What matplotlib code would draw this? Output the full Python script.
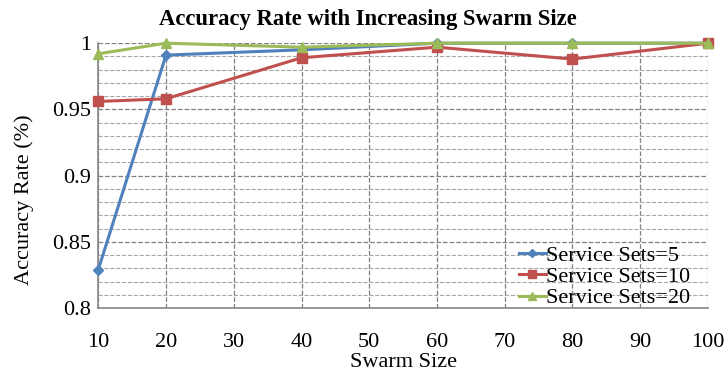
import matplotlib
matplotlib.use("Agg")
import matplotlib.pyplot as plt
from matplotlib.ticker import MultipleLocator

swarm_size = [10, 20, 40, 60, 80, 100]
sets_5 = [0.829, 0.991, 0.995, 1.0, 1.0, 1.0]
sets_10 = [0.956, 0.958, 0.989, 0.997, 0.988, 1.0]
sets_20 = [0.992, 1.0, 0.997, 1.0, 1.0, 1.0]

plt.rcParams['font.family'] = ['Liberation Serif', 'DejaVu Serif']

fig = plt.figure(figsize=(7.28, 3.74), dpi=100)
ax = fig.add_axes([0.135, 0.1765, 0.8375, 0.708])

ax.plot(swarm_size, sets_5, color='#4F81BD', marker='D', markersize=5, linewidth=2.2,
        label='Service Sets=5', zorder=3, clip_on=False)
ax.plot(swarm_size, sets_10, color='#C0504D', marker='s', markersize=7, linewidth=2.2,
        label='Service Sets=10', zorder=3, clip_on=False)
ax.plot(swarm_size, sets_20, color='#9BBB59', marker='^', markersize=7, linewidth=2.2,
        label='Service Sets=20', zorder=3, clip_on=False)

ax.set_xlim(10, 100)
ax.set_ylim(0.8, 1.0)
ax.xaxis.set_major_locator(MultipleLocator(10))
ax.yaxis.set_minor_locator(MultipleLocator(0.01))
ax.set_yticks([0.8, 0.85, 0.9, 0.95, 1.0])
ax.set_yticklabels(['0.8', '0.85', '0.9', '0.95', '1'])

ax.grid(True, which='major', axis='both', color='#808080', linestyle='--', linewidth=0.9)
ax.grid(True, which='minor', axis='y', color='#A6A6A6', linestyle='--', linewidth=0.8)
ax.set_axisbelow(True)
ax.tick_params(which='both', length=0, labelsize=16)
ax.tick_params(axis='x', pad=18)
ax.tick_params(axis='y', pad=5)

for side in ['top', 'right']:
    ax.spines[side].set_visible(False)
for side in ['left', 'bottom']:
    ax.spines[side].set_color('#868686')
    ax.spines[side].set_linewidth(1.2)

fig.text(0.505, 0.948, 'Accuracy Rate with Increasing Swarm Size', fontsize=16.3,
         fontweight='bold', ha='center', va='center')
ax.set_xlabel('Swarm Size', fontsize=16, labelpad=1)
ax.set_ylabel('Accuracy Rate (%)', fontsize=16, labelpad=11)
ax.yaxis.set_label_coords(-0.105, 0.41)

ax.legend(loc='lower right', frameon=False, fontsize=16, handlelength=1.2,
          handletextpad=0.0, labelspacing=0.03, borderaxespad=0.0,
          bbox_to_anchor=(0.985, -0.035), markerscale=0.8)

fig.savefig('out.png', dpi=100)
